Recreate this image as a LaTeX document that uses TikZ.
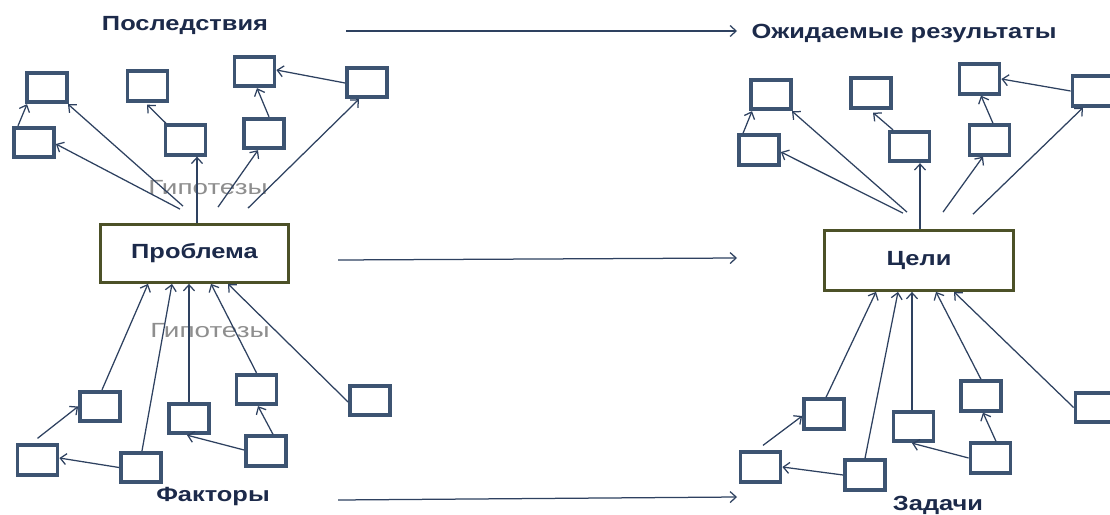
\documentclass[tikz,border=0pt]{standalone}
\usepackage{fontspec}
\setmainfont{Liberation Sans}
\usetikzlibrary{arrows.meta,calc}
\definecolor{boxc}{HTML}{3D5472}
\definecolor{linec}{HTML}{2E4160}
\definecolor{textc}{HTML}{1C2A4A}
\definecolor{olive}{HTML}{4C5128}
\definecolor{grayt}{HTML}{8E8E8E}
\newcommand{\ttl}[1]{\scalebox{1.24}[1]{#1}}
\newcommand{\htl}[1]{\scalebox{1.36}[1]{#1}}
\tikzset{
  sbox/.style={draw=boxc, line width=3.8pt, fill=white, minimum width=40pt, minimum height=29.5pt, inner sep=0pt},
  mainbox/.style={draw=olive, line width=2.8pt, fill=white, inner sep=0pt, text=textc, font=\fontsize{20.5}{24}\selectfont\bfseries},
  conn/.style={draw=linec, line width=1.25pt, -{Straight Barb[length=6pt,width=11pt,line width=1.25pt]}},
  title/.style={text=textc, font=\fontsize{20.5}{24}\selectfont\bfseries, inner sep=0pt},
  hyp/.style={text=grayt, font=\fontsize{20.5}{24}\selectfont, inner sep=0pt}
}
\begin{document}
\begin{tikzpicture}[x=1pt,y=-1pt]
\useasboundingbox (0,0) rectangle (1110,514);
\clip (0,0) rectangle (1110,514);
\fill[white] (0,0) rectangle (1110,514);
% titles
\node[title] (tcons) at (185,25) {\ttl{Последствия}};
\node[title] (tres) at (904,33) {\ttl{Ожидаемые результаты}};
\node[title] (tfac) at (213,497) {\ttl{Факторы}};
\node[title] (ttask) at (938,505) {\ttl{Задачи}};
\node[hyp] (hyp1) at (208,188) {\htl{Гипотезы}};
\node[hyp] (hyp2) at (210,331) {\htl{Гипотезы}};
% main boxes
\node[mainbox, minimum width=188pt, minimum height=58pt] (P) at (194.5,253.5) {\ttl{Проблема}};
\node[mainbox, minimum width=189pt, minimum height=60pt] (C) at (919,260.5) {\ttl{Цели}};
% left top boxes
\node[sbox] (A) at (47,87.5) {};
\node[sbox] (B) at (34,142.5) {};
\node[sbox] (Cc) at (147.5,86) {};
\node[sbox] (D) at (185.5,140) {};
\node[sbox] (E) at (254.5,71.5) {};
\node[sbox] (F) at (264,133.5) {};
\node[sbox] (G) at (367,82.5) {};
% left bottom boxes
\node[sbox] (H) at (37.5,460) {};
\node[sbox] (I) at (100,406.5) {};
\node[sbox] (J) at (141,467.5) {};
\node[sbox] (K) at (189,418.5) {};
\node[sbox] (L) at (256.5,389.5) {};
\node[sbox] (M) at (266,451) {};
\node[sbox] (N) at (370,400.5) {};
% right top boxes
\node[sbox] (A2) at (771,94.5) {};
\node[sbox] (B2) at (759,150) {};
\node[sbox] (C2) at (871,93) {};
\node[sbox] (D2) at (909.5,146.5) {};
\node[sbox] (E2) at (979.5,79) {};
\node[sbox] (F2) at (989.5,140) {};
\node[sbox] (G2) at (1092.5,91) {};
% right bottom boxes
\node[sbox] (H2) at (760.5,467) {};
\node[sbox] (I2) at (824,414) {};
\node[sbox] (J2) at (865,475) {};
\node[sbox] (K2) at (913.5,426.5) {};
\node[sbox] (L2) at (981,396) {};
\node[sbox] (M2) at (990.5,458) {};
\node[sbox] (N2) at (1095.5,407.5) {};
% free ends of the horizontal arrows
\coordinate (h1s) at (346,31);  \coordinate (h1e) at (737,31);
\coordinate (h2s) at (338,260); \coordinate (h2e) at (737,258);
\coordinate (h3s) at (338,500); \coordinate (h3e) at (737,497);
\draw[conn] (h1s) -- (h1e);
\draw[conn] (h2s) -- (h2e);
\draw[conn] (h3s) -- (h3e);
% left top connectors
\draw[conn] ($(B.north)+(-16,0)$) -- ($(A.south)+(-20,0)$);
\draw[conn] ($(P.north)+(-11.5,-17)$) -- ($(A.south)+(21,0)$);
\draw[conn] ($(P.north)+(-14.5,-14)$) -- ($(B.east)+(0,1.5)$);
\draw[conn] ($(P.north)+(2.5,0)$) -- ($(D.south)+(11.5,0)$);
\draw[conn] ($(D.north)+(-19.5,0)$) -- ($(Cc.south)+(-0.5,2)$);
\draw[conn] ($(P.north)+(23.5,-16)$) -- ($(F.south)+(-6,0)$);
\draw[conn] ($(F.north)+(5,0)$) -- ($(E.south)+(2.5,0)$);
\draw[conn] ($(G.west)+(0,0.5)$) -- ($(E.east)+(0,-1.5)$);
\draw[conn] ($(P.north)+(53.5,-15)$) -- ($(G.south)+(-8,0)$);
% left bottom connectors
\draw[conn] ($(H.north)+(0,-5)$) -- (I.west);
\draw[conn] ($(I.north)+(2,0)$) -- ($(P.south)+(-46.5,0)$);
\draw[conn] ($(J.north)+(1,0)$) -- ($(P.south)+(-22.5,0)$);
\draw[conn] (J.west) -- ($(H.east)+(0,-2)$);
\draw[conn] (K.north) -- ($(P.south)+(-5.5,0)$);
\draw[conn] ($(M.west)+(0,-1)$) -- ($(K.south)+(-2,0)$);
\draw[conn] ($(M.north)+(7,0)$) -- ($(L.south)+(1.5,0)$);
\draw[conn] (L.north) -- ($(P.south)+(16.5,0)$);
\draw[conn] ($(N.west)+(0,1.5)$) -- ($(P.south)+(33.5,0)$);
% right top connectors
\draw[conn] ($(B2.north)+(-16,0)$) -- ($(A2.south)+(-19,0)$);
\draw[conn] ($(C.north)+(-12,-17)$) -- ($(A2.south)+(21,0)$);
\draw[conn] ($(C.north)+(-16,-16)$) -- ($(B2.east)+(0,2)$);
\draw[conn] ($(C.north)+(1,0)$) -- ($(D2.south)+(10.5,0)$);
\draw[conn] ($(D2.north)+(-16.5,0)$) -- ($(C2.south)+(2,3)$);
\draw[conn] ($(C.north)+(24,-17)$) -- ($(F2.south)+(-6.5,0)$);
\draw[conn] ($(F2.north)+(3.5,0)$) -- ($(E2.south)+(1.5,0)$);
\draw[conn] (G2.west) -- (E2.east);
\draw[conn] ($(C.north)+(54,-15)$) -- ($(G2.south)+(-9.5,0)$);
% right bottom connectors
\draw[conn] ($(H2.north)+(2.5,-5)$) -- ($(I2.west)+(0,2)$);
\draw[conn] ($(I2.north)+(2,0)$) -- ($(C.south)+(-43,0)$);
\draw[conn] (J2.north) -- ($(C.south)+(-21,0)$);
\draw[conn] (J2.west) -- (H2.east);
\draw[conn] ($(K2.north)+(-1.5,0)$) -- ($(C.south)+(-7,0)$);
\draw[conn] (M2.west) -- ($(K2.south)+(-1.5,0)$);
\draw[conn] ($(M2.north)+(5.5,0)$) -- ($(L2.south)+(2,0)$);
\draw[conn] (L2.north) -- ($(C.south)+(17,0)$);
\draw[conn] (N2.west) -- ($(C.south)+(35,0)$);
\end{tikzpicture}
\end{document}
